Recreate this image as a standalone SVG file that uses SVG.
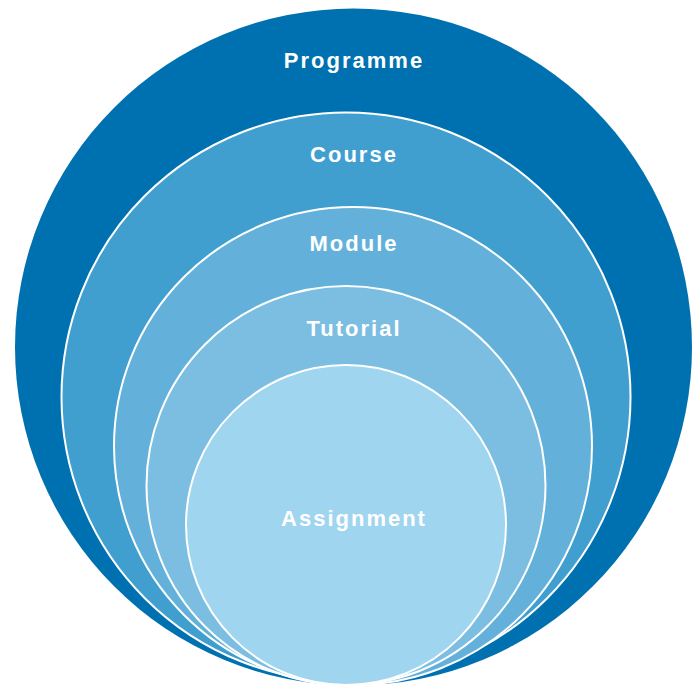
<svg xmlns="http://www.w3.org/2000/svg" width="696" height="684" viewBox="0 0 696 684">
<style>
.ring{stroke:#ffffff;stroke-width:2}
.lbl{font-family:"Liberation Sans",Arial,sans-serif;font-size:22px;font-weight:bold;fill:#ffffff;text-anchor:middle;letter-spacing:2px}
</style>
<rect width="696" height="684" fill="#ffffff"/>
<g id="programme">
<circle cx="353.5" cy="347" r="338.5" fill="#0071B0"/>
<text class="lbl" x="354" y="68">Programme</text>
</g>
<g id="course">
<circle class="ring" cx="346" cy="397" r="284.5" fill="#419FD0"/>
<text class="lbl" x="354" y="162">Course</text>
</g>
<g id="module">
<circle class="ring" cx="353" cy="446" r="239" fill="#63B1DA"/>
<text class="lbl" x="354" y="251">Module</text>
</g>
<g id="tutorial">
<circle class="ring" cx="346" cy="485.5" r="199.5" fill="#7BBEE1"/>
<text class="lbl" x="354" y="336">Tutorial</text>
</g>
<g id="assignment">
<circle class="ring" cx="346" cy="525" r="160" fill="#A0D5EF"/>
<text class="lbl" x="354" y="526">Assignment</text>
</g>
<g id="connectors"/>
</svg>
